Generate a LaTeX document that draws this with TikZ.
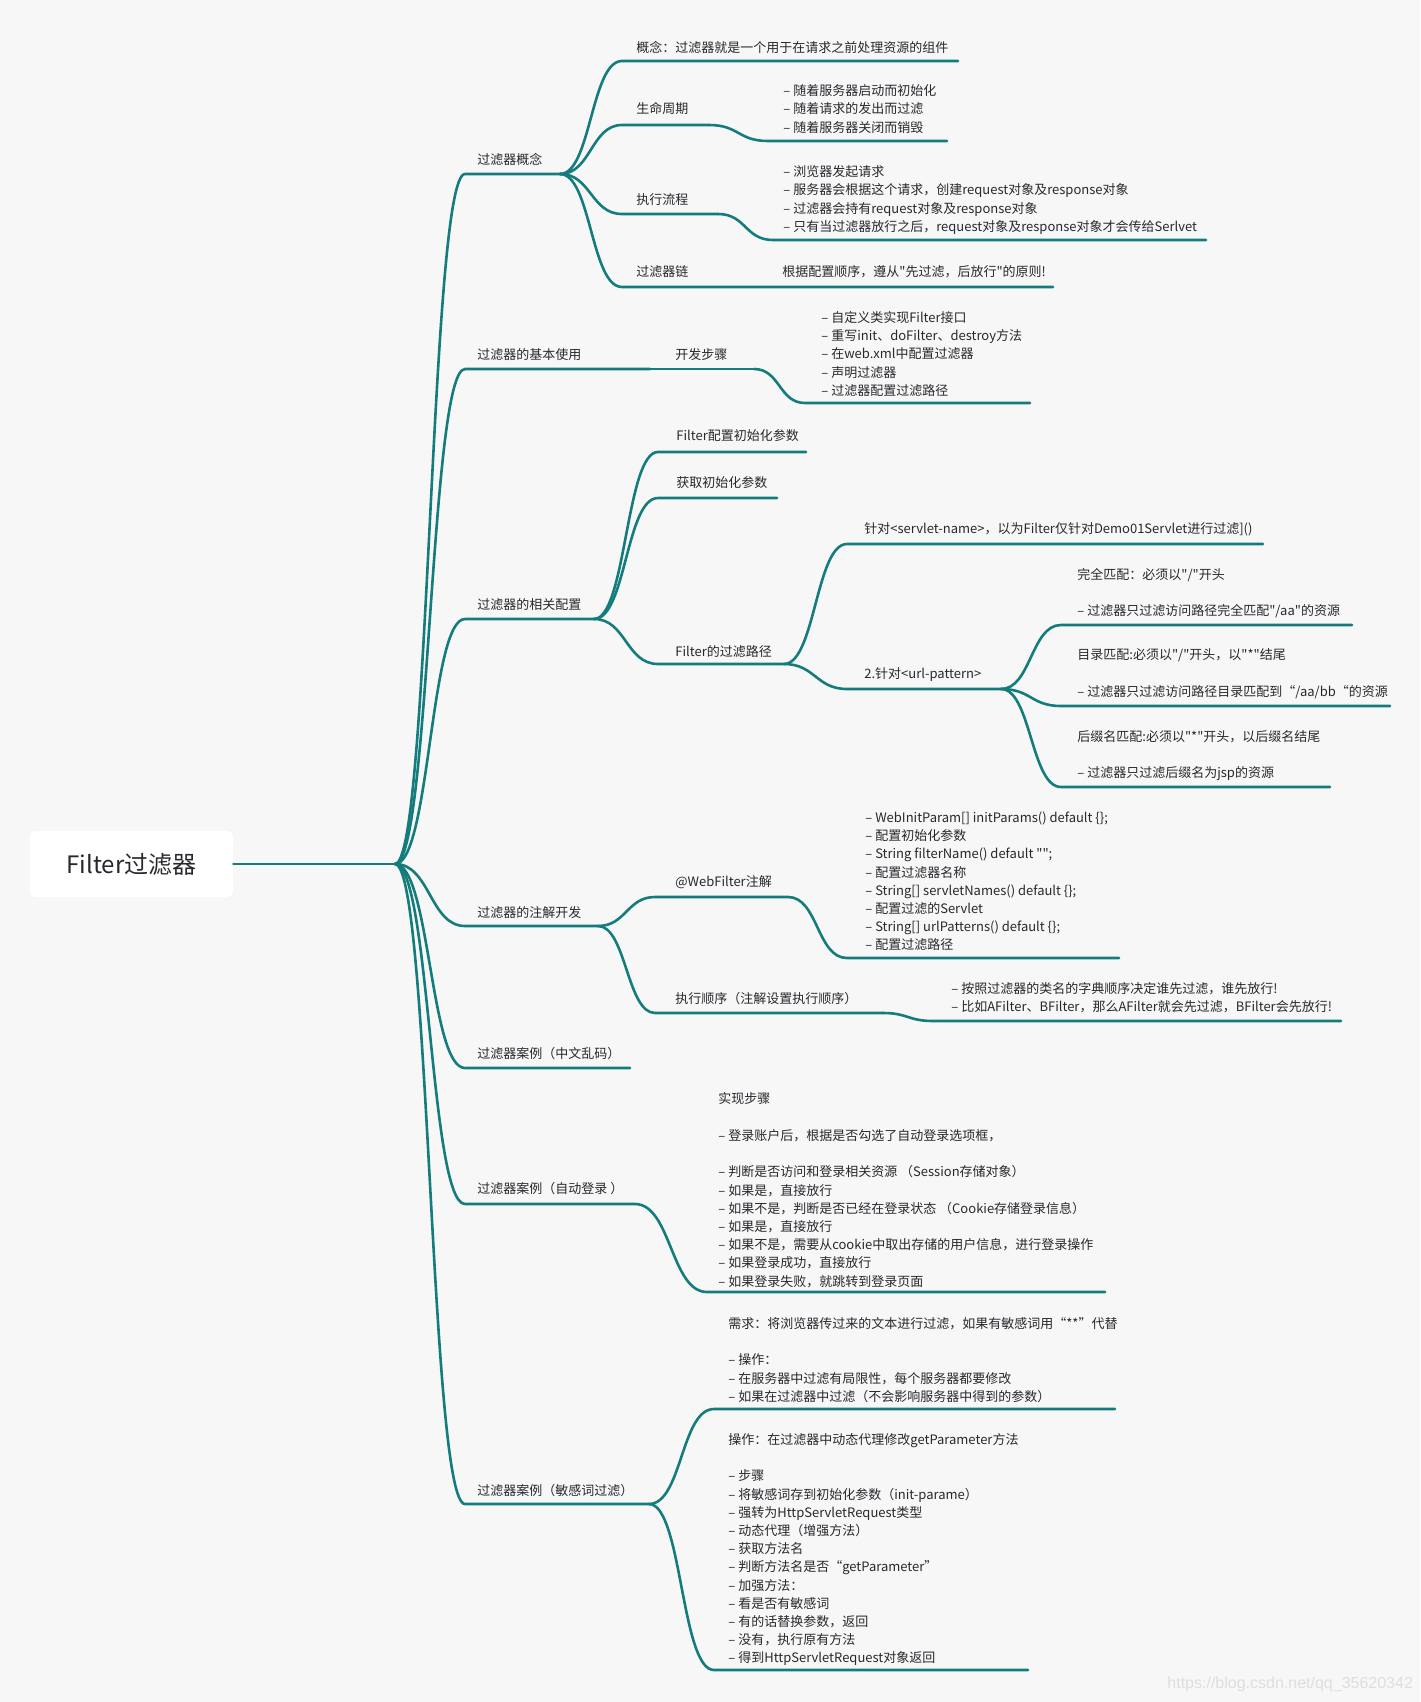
\documentclass[tikz,border=0pt]{standalone}
\usepackage{fontspec}
\setmainfont{Noto Sans CJK SC}[Ligatures=TeXOff]
\newfontfamily\urlfont{Liberation Sans}
\definecolor{mapline}{RGB}{20,124,124}
\definecolor{paper}{RGB}{247,247,247}
\definecolor{ink}{RGB}{40,40,46}
\definecolor{faint}{RGB}{222,222,222}

\begin{document}
\begin{tikzpicture}[
      x=0.5pt, y=-0.5pt,
      branch/.style={draw=mapline, line width=1.3pt, line cap=round},
      topic/.style={anchor=west, inner sep=0pt, text=ink, font=\fontsize{6.5}{9.1}\selectfont},
      note/.style={topic, align=left},
      rootbox/.style={fill=white, rounded corners=2.5pt, inner sep=0pt, minimum width=101.5pt,
        minimum height=33pt, text=ink, font=\fontsize{12}{14}\selectfont},
    ]
    \fill[paper] (0,0) rectangle (1420,1702);
    \useasboundingbox (0,0) rectangle (1420,1702);

    % -------------------------------------------------------
    %  Root and first level
    % -------------------------------------------------------
    \node[rootbox] (root) at (131.5,864) {Filter过滤器};
    \coordinate (hub) at (395,864);
    \draw[branch] (root.east) -- (hub);

    \foreach \n/\y/\e in {concept/174/560, basic/369/650, config/619/594, annot/926/598,
                          garble/1068/630, login/1204/635, sensitive/1504/649} {
      \coordinate (\n-s) at (465,\y);
      \coordinate (\n-e) at (\e,\y);
      \draw[branch] (hub) .. controls +(35,0) and +(-35,0) .. (\n-s) -- (\n-e);
    }
    \node[topic] (concept) at (477,159) {过滤器概念};
    \node[topic] (basic) at (477,355) {过滤器的基本使用};
    \node[topic] (config) at (477,605) {过滤器的相关配置};
    \node[topic] (annot) at (477,913) {过滤器的注解开发};
    \node[topic] (garble) at (477,1054) {过滤器案例（中文乱码）};
    \node[topic] (login) at (477,1189) {过滤器案例（自动登录 ）};
    \node[topic] (sensitive) at (477,1491) {过滤器案例（敏感词过滤）};

    % -------------------------------------------------------
    %  过滤器概念
    % -------------------------------------------------------
    \coordinate (idea-s) at (622,61);   \coordinate (idea-e) at (958,61);
    \coordinate (life-s) at (622,125);  \coordinate (life-e) at (709,125);
    \coordinate (flow-s) at (622,214);  \coordinate (flow-e) at (718,214);
    \coordinate (chain-s) at (622,287); \coordinate (chain-e) at (1053,287);
    \foreach \c in {idea, life, flow, chain}
      \draw[branch] (concept-e) .. controls +(31,0) and +(-31,0) .. (\c-s) -- (\c-e);
    \node[topic] (idea) at (636,47) {概念：过滤器就是一个用于在请求之前处理资源的组件};
    \node[topic] (life) at (636,109) {生命周期};
    \node[topic] (flow) at (636,200) {执行流程};
    \node[topic] (chain) at (636,272) {过滤器链};

    \coordinate (life-l) at (768,141);  \coordinate (life-le) at (947,141);
    \draw[branch] (life-e) .. controls +(30,0) and +(-30,0) .. (life-l) -- (life-le);
    \node[note] (lifenote) at (783,109) {– 随着服务器启动而初始化\\– 随着请求的发出而过滤\\– 随着服务器关闭而销毁};

    \coordinate (flow-l) at (773,240);  \coordinate (flow-le) at (1206,240);
    \draw[branch] (flow-e) .. controls +(28,0) and +(-28,0) .. (flow-l) -- (flow-le);
    \node[note] (flownote) at (783,200) {– 浏览器发起请求\\– 服务器会根据这个请求，创建request对象及response对象\\– 过滤器会持有request对象及response对象\\– 只有当过滤器放行之后，request对象及response对象才会传给Serlvet};

    \node[topic] (chainnote) at (782,272) {根据配置顺序，遵从"先过滤，后放行"的原则!};

    % -------------------------------------------------------
    %  过滤器的基本使用
    % -------------------------------------------------------
    \coordinate (dev-s) at (660,369);  \coordinate (dev-e) at (754,369);
    \draw[branch] (basic-e) -- (dev-s) -- (dev-e);
    \node[topic] (dev) at (675,355) {开发步骤};
    \coordinate (dev-l) at (805,403);  \coordinate (dev-le) at (1030,403);
    \draw[branch] (dev-e) .. controls +(26,0) and +(-26,0) .. (dev-l) -- (dev-le);
    \node[note] (devnote) at (821,354) {– 自定义类实现Filter接口\\– 重写init、doFilter、destroy方法\\– 在web.xml中配置过滤器\\– 声明过滤器\\– 过滤器配置过滤路径};

    % -------------------------------------------------------
    %  过滤器的相关配置
    % -------------------------------------------------------
    \coordinate (initcfg-s) at (658,452); \coordinate (initcfg-e) at (806,452);
    \coordinate (initget-s) at (658,498); \coordinate (initget-e) at (777,498);
    \coordinate (path-s) at (658,664);    \coordinate (path-e) at (784,664);
    \foreach \c in {initcfg, initget, path}
      \draw[branch] (config-e) .. controls +(32,0) and +(-32,0) .. (\c-s) -- (\c-e);
    \node[topic] (initcfg) at (676,436) {Filter配置初始化参数};
    \node[topic] (initget) at (676,483) {获取初始化参数};
    \node[topic] (path) at (675,652) {Filter的过滤路径};

    % by name / by url
    \coordinate (byname-s) at (847,544); \coordinate (byname-e) at (1263,544);
    \coordinate (byurl-s) at (847,689);  \coordinate (byurl-e) at (1001,689);
    \foreach \c in {byname, byurl}
      \draw[branch] (path-e) .. controls +(31,0) and +(-31,0) .. (\c-s) -- (\c-e);
    \node[topic] (byname) at (864,529) {针对<servlet-name>，以为Filter仅针对Demo01Servlet进行过滤]()};
    \node[topic] (byurl) at (864,675) {2.针对<url-pattern>};

    % three kinds of url-pattern
    \coordinate (exact-s) at (1061,625); \coordinate (exact-e) at (1352,625);
    \coordinate (dir-s) at (1061,706);   \coordinate (dir-e) at (1390,706);
    \coordinate (ext-s) at (1061,787);   \coordinate (ext-e) at (1330,787);
    \foreach \c in {exact, dir, ext}
      \draw[branch] (byurl-e) .. controls +(30,0) and +(-30,0) .. (\c-s) -- (\c-e);
    \node[note] (exact) at (1077,593) {完全匹配：必须以"/"开头\\[9.2pt]– 过滤器只过滤访问路径完全匹配"/aa"的资源};
    \node[note] (dir) at (1077,673.5) {目录匹配:必须以"/"开头，以"*"结尾\\[9.2pt]– 过滤器只过滤访问路径目录匹配到“/aa/bb“的资源};
    \node[note] (ext) at (1077,755.5) {后缀名匹配:必须以"*"开头，以后缀名结尾\\[9.2pt]– 过滤器只过滤后缀名为jsp的资源};

    % -------------------------------------------------------
    %  过滤器的注解开发
    % -------------------------------------------------------
    \coordinate (anno-s) at (655,897);   \coordinate (anno-e) at (788,897);
    \coordinate (order-s) at (655,1013); \coordinate (order-e) at (883,1013);
    \foreach \c in {anno, order}
      \draw[branch] (annot-e) .. controls +(28,0) and +(-28,0) .. (\c-s) -- (\c-e);
    \node[topic] (anno) at (675,882) {@WebFilter注解};
    \node[topic] (order) at (675,999) {执行顺序（注解设置执行顺序）};

    \coordinate (anno-l) at (847,958);   \coordinate (anno-le) at (1119,958);
    \draw[branch] (anno-e) .. controls +(30,0) and +(-30,0) .. (anno-l) -- (anno-le);
    \node[note] (annonote) at (865,881.5) {– WebInitParam[] initParams() default \{\};\\– 配置初始化参数\\– String filterName() default "";\\– 配置过滤器名称\\– String[] servletNames() default \{\};\\– 配置过滤的Servlet\\– String[] urlPatterns() default \{\};\\– 配置过滤路径};

    \coordinate (order-l) at (933,1021); \coordinate (order-le) at (1341,1021);
    \draw[branch] (order-e) .. controls +(25,0) and +(-25,0) .. (order-l) -- (order-le);
    \node[note] (ordernote) at (951,998) {– 按照过滤器的类名的字典顺序决定谁先过滤，谁先放行!\\– 比如AFilter、BFilter，那么AFilter就会先过滤，BFilter会先放行!};

    % -------------------------------------------------------
    %  过滤器案例（自动登录）
    % -------------------------------------------------------
    \coordinate (login-l) at (707,1292); \coordinate (login-le) at (1105,1292);
    \draw[branch] (login-e) .. controls +(36,0) and +(-36,0) .. (login-l) -- (login-le);
    \node[note] (loginnote) at (718,1190) {实现步骤\\[9.2pt]– 登录账户后，根据是否勾选了自动登录选项框，\\[9.2pt]– 判断是否访问和登录相关资源 （Session存储对象）\\– 如果是，直接放行\\– 如果不是，判断是否已经在登录状态 （Cookie存储登录信息）\\– 如果是，直接放行\\– 如果不是，需要从cookie中取出存储的用户信息，进行登录操作\\– 如果登录成功，直接放行\\– 如果登录失败，就跳转到登录页面};

    % -------------------------------------------------------
    %  过滤器案例（敏感词过滤）
    % -------------------------------------------------------
    \coordinate (need-s) at (714,1409); \coordinate (need-e) at (1115,1409);
    \coordinate (oper-s) at (714,1670); \coordinate (oper-e) at (1028,1670);
    \foreach \c in {need, oper}
      \draw[branch] (sensitive-e) .. controls +(33,0) and +(-33,0) .. (\c-s) -- (\c-e);
    \node[note] (need) at (728,1360) {需求：将浏览器传过来的文本进行过滤，如果有敏感词用“**”代替\\[9.2pt]– 操作：\\– 在服务器中过滤有局限性，每个服务器都要修改\\– 如果在过滤器中过滤（不会影响服务器中得到的参数）};
    \node[note] (oper) at (728,1549.5) {操作：在过滤器中动态代理修改getParameter方法\\[9.2pt]– 步骤\\– 将敏感词存到初始化参数（init-parame）\\– 强转为HttpServletRequest类型\\– 动态代理（增强方法）\\– 获取方法名\\– 判断方法名是否“getParameter”\\– 加强方法：\\– 看是否有敏感词\\– 有的话替换参数，返回\\– 没有，执行原有方法\\– 得到HttpServletRequest对象返回};

    \node[anchor=west, inner sep=0pt, text=faint, font=\urlfont\fontsize{8}{9}\selectfont] (mark) at (1167,1684) {https://blog.csdn.net/qq\_35620342};

  \end{tikzpicture}
\end{document}
